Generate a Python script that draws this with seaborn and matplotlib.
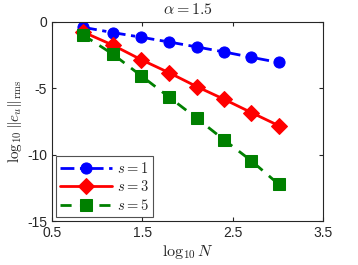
import numpy as np
import pandas as pd
import matplotlib
matplotlib.use('Agg')
import matplotlib.pyplot as plt
import seaborn as sns

# data
log_n = [0.845, 1.176, 1.491, 1.799, 2.104, 2.407, 2.709, 3.010]
err_s1 = [-0.40, -0.80, -1.15, -1.51, -1.88, -2.26, -2.66, -3.05]
err_s3 = [-0.75, -1.75, -2.85, -3.83, -4.87, -5.83, -6.83, -7.81]
err_s5 = [-0.98, -2.43, -4.07, -5.67, -7.26, -8.89, -10.47, -12.23]
labels = ['$s=1$', '$s=3$', '$s=5$']

sns.set_style('ticks')
plt.rcParams['font.family'] = ['Liberation Sans', 'DejaVu Sans']
plt.rcParams['mathtext.fontset'] = 'cm'

fig = plt.figure(figsize=(3.58, 2.65), dpi=100)
ax = fig.add_axes([0.145, 0.166, 0.757, 0.751])

styles = [
    (err_s1, 'blue', 'o', (0, (5, 2, 1.5, 2))),
    (err_s3, 'red', 'D', '-'),
    (err_s5, 'green', 's', (0, (4, 3))),
]
for (vals, col, mk, ls), lab in zip(styles, labels):
    df = pd.DataFrame({'x': log_n, 'y': vals})
    sns.lineplot(data=df, x='x', y='y', ax=ax, color=col, marker=mk,
                 linestyle=ls, linewidth=2, markersize=8,
                 markeredgecolor=col, label=lab)

ax.set_xlim(0.5, 3.5)
ax.set_ylim(-15, 0)
ax.set_xticks([0.5, 1.5, 2.5, 3.5])
ax.set_xticklabels(['0.5', '1.5', '2.5', '3.5'])
ax.set_yticks([0, -5, -10, -15])
ax.set_yticklabels(['0', '-5', '-10', '-15'])
ax.tick_params(direction='in', top=True, right=True, labelsize=10, length=3,
               color='#262626', labelcolor='#262626')
for sp in ax.spines.values():
    sp.set_visible(True)
    sp.set_color('#262626')
    sp.set_linewidth(0.8)

ax.set_title(r'$\alpha = 1.5$', fontsize=11.5, pad=6)
ax.set_xlabel(r'$\log_{10} N$', fontsize=11.5, labelpad=2)
ax.set_ylabel(r'$\log_{10}\|e_u\|_{\rm rms}$', fontsize=11, labelpad=2)

leg = ax.legend(loc='lower left', fontsize=10.5, frameon=True, fancybox=False,
                edgecolor='#262626', handlelength=3.6, borderaxespad=0.25,
                borderpad=0.3, labelspacing=0.25, handletextpad=0.3)
leg.get_frame().set_linewidth(0.8)

fig.savefig('out.png', dpi=100)
